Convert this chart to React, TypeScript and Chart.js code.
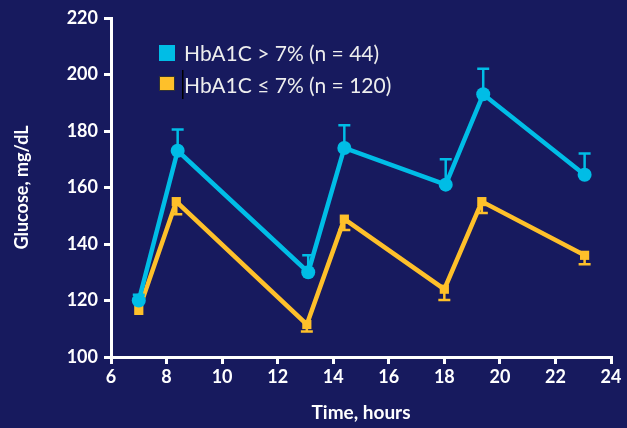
import React, { useEffect, useRef } from "react";
import { Chart, registerables } from "chart.js";

Chart.register(...registerables);

const seriesHighLabel = "HbA1C > 7% (n = 44)";
const seriesLowLabel = "HbA1C \u2264 7% (n = 120)";
const highTimes = [7.0, 8.4, 13.1, 14.4, 18.05, 19.4, 23.05];
const highValues = [120, 173, 130, 174, 161, 193, 164.5];
const highErrUp = [2, 7.5, 6, 8, 9, 9, 7.5];
const lowTimes = [7.0, 8.35, 13.05, 14.4, 18.0, 19.35, 23.05];
const lowValues = [116.5, 155, 111.5, 148.8, 124, 155, 136];
const lowErrDown = [0, 4.5, 2.5, 3.8, 3.8, 4, 3.2];
const xTicks = [6, 8, 10, 12, 14, 16, 18, 20, 22, 24];
const yTicks = [100, 120, 140, 160, 180, 200, 220];

const BG = "#171a5e";
const BLUE = "#00bde6";
const YELLOW = "#fec02a";
const WHITE = "#ffffff";
const FONT = "Lato, 'Open Sans', sans-serif";

export default function App() {
  const ref = useRef<HTMLCanvasElement | null>(null);
  useEffect(() => {
    if (!ref.current) return;
    const errorBars = {
      id: "errorBars",
      afterDatasetsDraw(chart: any) {
        const { ctx, scales } = chart;
        const x = scales.x, y = scales.y;
        ctx.save();
        ctx.lineWidth = 2.5;
        ctx.strokeStyle = BLUE;
        highTimes.forEach((t, i) => {
          if (!highErrUp[i]) return;
          const px = x.getPixelForValue(t);
          const p0 = y.getPixelForValue(highValues[i]);
          const p1 = y.getPixelForValue(highValues[i] + highErrUp[i]);
          ctx.beginPath();
          ctx.moveTo(px, p0);
          ctx.lineTo(px, p1);
          ctx.moveTo(px - 6, p1);
          ctx.lineTo(px + 6, p1);
          ctx.stroke();
        });
        ctx.strokeStyle = YELLOW;
        lowTimes.forEach((t, i) => {
          if (!lowErrDown[i]) return;
          const px = x.getPixelForValue(t);
          const p0 = y.getPixelForValue(lowValues[i]);
          const p1 = y.getPixelForValue(lowValues[i] - lowErrDown[i]);
          ctx.beginPath();
          ctx.moveTo(px, p0);
          ctx.lineTo(px, p1);
          ctx.moveTo(px - 6, p1);
          ctx.lineTo(px + 6, p1);
          ctx.stroke();
        });
        ctx.restore();
      },
      afterDraw(chart: any) {
        const { ctx } = chart;
        ctx.save();
        ctx.font = `21px ${FONT}`;
        ctx.textBaseline = "middle";
        ctx.fillStyle = BLUE;
        ctx.fillRect(159, 45, 16, 16);
        ctx.fillStyle = YELLOW;
        ctx.fillRect(159, 76, 16, 15);
        ctx.strokeStyle = "#333";
        ctx.lineWidth = 1;
        ctx.strokeRect(159.5, 76.5, 15, 14);
        ctx.fillStyle = "#000";
        ctx.fillRect(182, 70, 1.5, 29);
        ctx.fillStyle = "#eeeeee";
        ctx.fillText(seriesHighLabel, 184, 54);
        ctx.fillText(seriesLowLabel, 184, 86);
        ctx.restore();
      },
    };
    const chart = new Chart(ref.current, {
      type: "line",
      data: {
        datasets: [
          {
            label: seriesHighLabel,
            data: highTimes.map((t, i) => ({ x: t, y: highValues[i] })),
            borderColor: BLUE,
            backgroundColor: BLUE,
            borderWidth: 4.5,
            pointStyle: "circle",
            pointRadius: 7,
            pointBorderWidth: 0,
          },
          {
            label: seriesLowLabel,
            data: lowTimes.map((t, i) => ({ x: t, y: lowValues[i] })),
            borderColor: YELLOW,
            backgroundColor: YELLOW,
            borderWidth: 4.5,
            pointStyle: "rect",
            pointRadius: 6.5,
            pointBorderWidth: 0,
          },
        ],
      },
      options: {
        animation: false,
        responsive: false,
        maintainAspectRatio: false,
        layout: { padding: { left: 0, top: 18, right: 16, bottom: 0 } },
        plugins: { legend: { display: false }, tooltip: { enabled: false } },
        scales: {
          x: {
            type: "linear",
            min: 6,
            max: 24,
            afterBuildTicks: (s: any) => {
              s.ticks = xTicks.map((v) => ({ value: v }));
            },
            afterFit: (s: any) => {
              s.height = 71;
            },
            border: { color: WHITE, width: 3 },
            grid: { drawOnChartArea: false, drawTicks: true, tickLength: 7, color: WHITE, lineWidth: 3 },
            ticks: { color: WHITE, font: { family: FONT, size: 18, weight: "bold" }, padding: 2, maxRotation: 0 },
            title: { display: true, text: "Time, hours", color: WHITE, font: { family: FONT, size: 19, weight: "bold" }, padding: { top: 4, bottom: 4 } },
          },
          y: {
            min: 100,
            max: 220,
            afterBuildTicks: (s: any) => {
              s.ticks = yTicks.map((v) => ({ value: v }));
            },
            afterFit: (s: any) => {
              s.width = 111;
            },
            border: { color: WHITE, width: 3 },
            grid: { drawOnChartArea: false, drawTicks: true, tickLength: 7, color: WHITE, lineWidth: 3 },
            ticks: { color: WHITE, font: { family: FONT, size: 18, weight: "bold" }, padding: 6 },
            title: { display: true, text: "Glucose, mg/dL", color: WHITE, font: { family: FONT, size: 18, weight: "bold" }, padding: { top: 11, bottom: 4 } },
          },
        },
      },
      plugins: [errorBars],
    } as any);
    return () => chart.destroy();
  }, []);
  return (
    <div style={{ position: "absolute", left: 0, top: 0, width: 627, height: 428, background: BG }}>
      <canvas ref={ref} width={627} height={428} style={{ display: "block" }} />
    </div>
  );
}
